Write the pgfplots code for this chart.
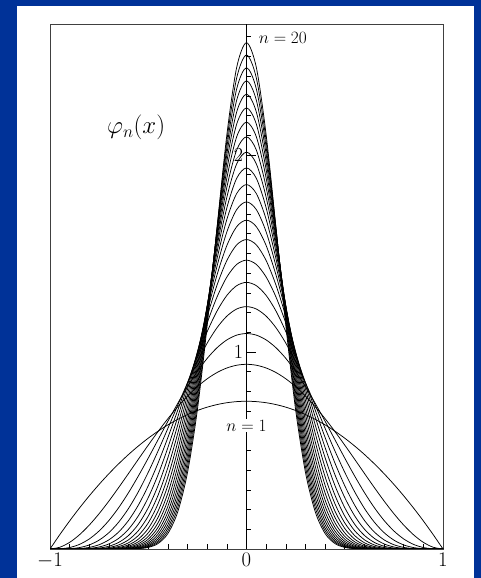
\documentclass[border=0pt]{standalone}
\usepackage{pgfplots}
\usepackage{pgfplotstable}
\pgfplotsset{compat=1.18}

\definecolor{bgblue}{RGB}{0,50,152}

% phi_n(x) for n = 1..20 on a grid of step 0.05
\pgfplotstableread{
x      n1     n2     n3     n4     n5     n6     n7     n8     n9     n10    n11    n12    n13    n14    n15    n16    n17    n18    n19    n20
-1.00  0      0      0      0      0      0      0      0      0      0      0      0      0      0      0      0      0      0      0      0
-0.95  0.0731 0.0089 0.0010 0.0001 0      0      0      0      0      0      0      0      0      0      0      0      0      0      0      0
-0.90  0.1425 0.0338 0.0075 0.0016 0.0003 0.0001 0      0      0      0      0      0      0      0      0      0      0      0      0      0
-0.85  0.2081 0.0722 0.0234 0.0073 0.0022 0.0007 0.0002 0.0001 0      0      0      0      0      0      0      0      0      0      0      0
-0.80  0.2700 0.1215 0.0510 0.0207 0.0082 0.0032 0.0012 0.0005 0.0002 0.0001 0      0      0      0      0      0      0      0      0      0
-0.75  0.3281 0.1794 0.0916 0.0451 0.0217 0.0103 0.0048 0.0022 0.0010 0.0005 0.0002 0.0001 0      0      0      0      0      0      0      0
-0.70  0.3825 0.2438 0.1451 0.0832 0.0467 0.0258 0.0141 0.0076 0.0041 0.0022 0.0012 0.0006 0.0003 0.0002 0.0001 0      0      0      0      0
-0.65  0.4331 0.3127 0.2107 0.1369 0.0869 0.0544 0.0337 0.0207 0.0126 0.0076 0.0046 0.0028 0.0017 0.0010 0.0006 0.0004 0.0002 0.0001 0.0001 0
-0.60  0.4800 0.3840 0.2867 0.2064 0.1453 0.1008 0.0691 0.0470 0.0317 0.0213 0.0143 0.0095 0.0063 0.0042 0.0028 0.0018 0.0012 0.0008 0.0005 0.0003
-0.55  0.5231 0.4561 0.3712 0.2912 0.2235 0.1688 0.1262 0.0935 0.0688 0.0504 0.0368 0.0267 0.0194 0.0140 0.0101 0.0072 0.0052 0.0037 0.0027 0.0019
-0.50  0.5625 0.5273 0.4614 0.3893 0.3212 0.2610 0.2097 0.1671 0.1323 0.1042 0.0817 0.0638 0.0497 0.0386 0.0299 0.0231 0.0179 0.0138 0.0106 0.0081
-0.45  0.5981 0.5963 0.5548 0.4977 0.4366 0.3772 0.3223 0.2731 0.2299 0.1925 0.1605 0.1333 0.1104 0.0912 0.0752 0.0618 0.0508 0.0416 0.0341 0.0278
-0.40  0.6300 0.6615 0.6483 0.6126 0.5661 0.5151 0.4636 0.4138 0.3669 0.3236 0.2842 0.2486 0.2169 0.1887 0.1638 0.1419 0.1227 0.1059 0.0913 0.0786
-0.35  0.6581 0.7219 0.7390 0.7296 0.7042 0.6694 0.6294 0.5868 0.5435 0.5008 0.4594 0.4199 0.3827 0.3478 0.3154 0.2854 0.2578 0.2325 0.2094 0.1883
-0.30  0.6825 0.7763 0.8242 0.8438 0.8446 0.8327 0.8119 0.7850 0.7540 0.7204 0.6854 0.6497 0.6140 0.5787 0.5441 0.5106 0.4784 0.4474 0.4178 0.3897
-0.25  0.7031 0.8240 0.9012 0.9505 0.9802 0.9955 1.0000 0.9961 0.9857 0.9703 0.9510 0.9287 0.9041 0.8779 0.8505 0.8222 0.7935 0.7646 0.7357 0.7069
-0.20  0.7200 0.8640 0.9677 1.0451 1.1036 1.1478 1.1806 1.2042 1.2202 1.2300 1.2345 1.2345 1.2307 1.2236 1.2138 1.2017 1.1876 1.1717 1.1545 1.1360
-0.15  0.7331 0.8958 1.0216 1.1234 1.2079 1.2792 1.3397 1.3914 1.4356 1.4735 1.5058 1.5333 1.5564 1.5757 1.5916 1.6044 1.6145 1.6220 1.6272 1.6304
-0.10  0.7425 0.9188 1.0613 1.1820 1.2872 1.3805 1.4643 1.5403 1.6096 1.6732 1.7317 1.7858 1.8360 1.8825 1.9258 1.9661 2.0037 2.0388 2.0715 2.1021
-0.05  0.7481 0.9328 1.0856 1.2182 1.3367 1.4445 1.5438 1.6362 1.7227 1.8043 1.8816 1.9551 2.0253 2.0924 2.1567 2.2185 2.2781 2.3355 2.3910 2.4446
 0.00  0.7500 0.9375 1.0938 1.2305 1.3535 1.4663 1.5710 1.6692 1.7620 1.8501 1.9342 2.0147 2.0922 2.1670 2.2392 2.3092 2.3771 2.4431 2.5074 2.5701
 0.05  0.7481 0.9328 1.0856 1.2182 1.3367 1.4445 1.5438 1.6362 1.7227 1.8043 1.8816 1.9551 2.0253 2.0924 2.1567 2.2185 2.2781 2.3355 2.3910 2.4446
 0.10  0.7425 0.9188 1.0613 1.1820 1.2872 1.3805 1.4643 1.5403 1.6096 1.6732 1.7317 1.7858 1.8360 1.8825 1.9258 1.9661 2.0037 2.0388 2.0715 2.1021
 0.15  0.7331 0.8958 1.0216 1.1234 1.2079 1.2792 1.3397 1.3914 1.4356 1.4735 1.5058 1.5333 1.5564 1.5757 1.5916 1.6044 1.6145 1.6220 1.6272 1.6304
 0.20  0.7200 0.8640 0.9677 1.0451 1.1036 1.1478 1.1806 1.2042 1.2202 1.2300 1.2345 1.2345 1.2307 1.2236 1.2138 1.2017 1.1876 1.1717 1.1545 1.1360
 0.25  0.7031 0.8240 0.9012 0.9505 0.9802 0.9955 1.0000 0.9961 0.9857 0.9703 0.9510 0.9287 0.9041 0.8779 0.8505 0.8222 0.7935 0.7646 0.7357 0.7069
 0.30  0.6825 0.7763 0.8242 0.8438 0.8446 0.8327 0.8119 0.7850 0.7540 0.7204 0.6854 0.6497 0.6140 0.5787 0.5441 0.5106 0.4784 0.4474 0.4178 0.3897
 0.35  0.6581 0.7219 0.7390 0.7296 0.7042 0.6694 0.6294 0.5868 0.5435 0.5008 0.4594 0.4199 0.3827 0.3478 0.3154 0.2854 0.2578 0.2325 0.2094 0.1883
 0.40  0.6300 0.6615 0.6483 0.6126 0.5661 0.5151 0.4636 0.4138 0.3669 0.3236 0.2842 0.2486 0.2169 0.1887 0.1638 0.1419 0.1227 0.1059 0.0913 0.0786
 0.45  0.5981 0.5963 0.5548 0.4977 0.4366 0.3772 0.3223 0.2731 0.2299 0.1925 0.1605 0.1333 0.1104 0.0912 0.0752 0.0618 0.0508 0.0416 0.0341 0.0278
 0.50  0.5625 0.5273 0.4614 0.3893 0.3212 0.2610 0.2097 0.1671 0.1323 0.1042 0.0817 0.0638 0.0497 0.0386 0.0299 0.0231 0.0179 0.0138 0.0106 0.0081
 0.55  0.5231 0.4561 0.3712 0.2912 0.2235 0.1688 0.1262 0.0935 0.0688 0.0504 0.0368 0.0267 0.0194 0.0140 0.0101 0.0072 0.0052 0.0037 0.0027 0.0019
 0.60  0.4800 0.3840 0.2867 0.2064 0.1453 0.1008 0.0691 0.0470 0.0317 0.0213 0.0143 0.0095 0.0063 0.0042 0.0028 0.0018 0.0012 0.0008 0.0005 0.0003
 0.65  0.4331 0.3127 0.2107 0.1369 0.0869 0.0544 0.0337 0.0207 0.0126 0.0076 0.0046 0.0028 0.0017 0.0010 0.0006 0.0004 0.0002 0.0001 0.0001 0
 0.70  0.3825 0.2438 0.1451 0.0832 0.0467 0.0258 0.0141 0.0076 0.0041 0.0022 0.0012 0.0006 0.0003 0.0002 0.0001 0      0      0      0      0
 0.75  0.3281 0.1794 0.0916 0.0451 0.0217 0.0103 0.0048 0.0022 0.0010 0.0005 0.0002 0.0001 0      0      0      0      0      0      0      0
 0.80  0.2700 0.1215 0.0510 0.0207 0.0082 0.0032 0.0012 0.0005 0.0002 0.0001 0      0      0      0      0      0      0      0      0      0
 0.85  0.2081 0.0722 0.0234 0.0073 0.0022 0.0007 0.0002 0.0001 0      0      0      0      0      0      0      0      0      0      0      0
 0.90  0.1425 0.0338 0.0075 0.0016 0.0003 0.0001 0      0      0      0      0      0      0      0      0      0      0      0      0      0
 0.95  0.0731 0.0089 0.0010 0.0001 0      0      0      0      0      0      0      0      0      0      0      0      0      0      0      0
 1.00  0      0      0      0      0      0      0      0      0      0      0      0      0      0      0      0      0      0      0      0
}\phitable

\begin{document}
\begin{tikzpicture}
  % page background and white sheet
  \fill[bgblue] (0pt,0pt) rectangle (481pt,578pt);
  \fill[white] (17pt,0pt) rectangle (474pt,572pt);

  \begin{axis}[
      at={(50pt,29pt)}, anchor=south west,
      scale only axis, width=393pt, height=525pt,
      xmin=-1, xmax=1, ymin=0, ymax=2.665,
      axis line style={black!75, line width=0.9pt},
      xtick={-1,0,1},
      minor xtick={-0.9,-0.8,-0.7,-0.6,-0.5,-0.4,-0.3,-0.2,-0.1,0.1,0.2,0.3,0.4,0.5,0.6,0.7,0.8,0.9},
      xtick pos=left, tick align=inside,
      major tick length=5pt, minor tick length=5pt,
      tick style={black, line width=0.6pt},
      ytick=\empty,
      xticklabel style={font=\fontsize{20}{22}\selectfont, yshift=-1pt},
      clip=true,
    ]
    % the twenty densities
    \pgfplotsinvokeforeach{1,...,20}{
      \addplot[black, line width=0.75pt, smooth, no markers] table[x=x, y=n#1] {\phitable};
    }
    % vertical axis through the origin with its ticks
    \draw[black, line width=0.8pt] (axis cs:0,0) -- (axis cs:0,2.665);
    \pgfplotsinvokeforeach{0.1,0.2,0.3,0.4,0.5,0.6,0.7,0.8,0.9,1.1,1.2,1.3,1.4,1.5,1.6,1.7,1.8,1.9,2.1,2.2,2.3,2.4,2.5,2.6}{
      \draw[black, line width=0.6pt] (axis cs:0,#1) -- ++(4pt,0pt);
    }
    \draw[black, line width=0.7pt] (axis cs:0,1) -- ++(9pt,0pt);
    \draw[black, line width=0.7pt] (axis cs:0,2) -- ++(9pt,0pt);
    \node[anchor=east, font=\fontsize{20}{22}\selectfont] at (axis cs:0,1) {1};
    \node[anchor=east, font=\fontsize{20}{22}\selectfont] at (axis cs:0,2) {2};
    % labels
    \node[fill=white, inner sep=1pt, font=\fontsize{17}{20}\selectfont] at (axis cs:0,0.625) {$n=1$};
    \node[anchor=west, font=\fontsize{17}{20}\selectfont] at (axis cs:0.045,2.594) {$n=20$};
    \node[font=\fontsize{26}{30}\selectfont] at (axis cs:-0.562,2.14) {$\varphi_n(x)$};
  \end{axis}
  \pgfresetboundingbox
  \path[use as bounding box] (0pt,0pt) rectangle (481pt,578pt);
\end{tikzpicture}
\end{document}
